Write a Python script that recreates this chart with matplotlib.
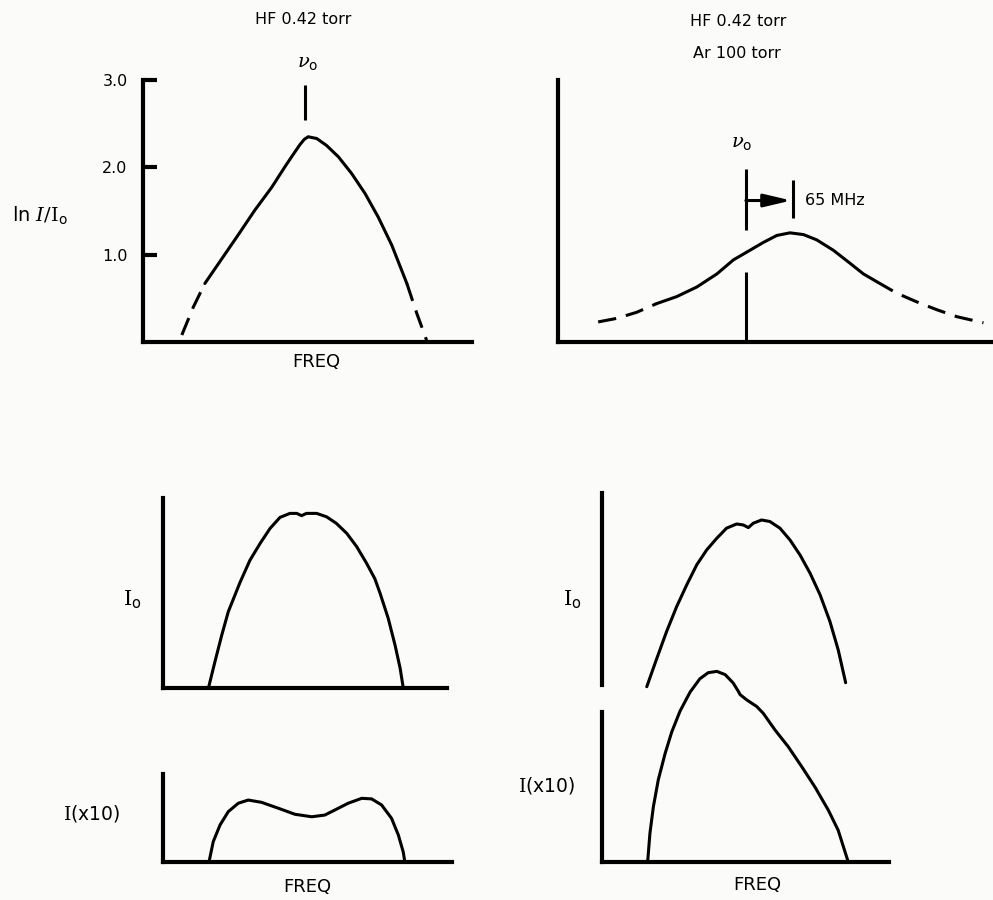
import matplotlib.pyplot as plt
import numpy as np

plt.rcParams["font.family"] = ["DejaVu Sans"]
plt.rcParams["mathtext.fontset"] = "dejavuserif"

# frequency is in arbitrary units (no scale on the original), intensities too

# top left: HF 0.42 torr, ln I/Io
freq_a = [11.8, 15.3, 18.8, 23.9, 29.0, 34.0, 39.1, 43.2, 45.7, 47.7, 49.0,
          50.2, 52.8, 55.8, 59.4, 63.4, 67.5, 71.5, 75.6, 80.2, 83.2, 86.2]
ln_a = [0.08, 0.40, 0.67, 0.95, 1.23, 1.51, 1.77, 2.01, 2.15, 2.26, 2.32,
        2.35, 2.33, 2.25, 2.12, 1.93, 1.70, 1.43, 1.11, 0.67, 0.33, 0.02]
solid_a = (18.8, 80.2)
nu0_a = 49.2
yticks_a = [1.0, 2.0, 3.0]
ytick_labels_a = ["1.0", "2.0", "3.0"]

# top right: HF 0.42 torr + Ar 100 torr
freq_b = [12.2, 17.8, 23.9, 30.0, 36.1, 42.2, 48.3, 53.3, 57.4, 62.4, 66.5,
          70.5, 74.6, 78.6, 83.7, 88.8, 92.8, 96.9, 102.9, 109.0, 115.1,
          121.2, 129.3]
ln_b = [0.23, 0.27, 0.34, 0.44, 0.52, 0.63, 0.78, 0.94, 1.03, 1.14, 1.22,
        1.25, 1.23, 1.17, 1.05, 0.90, 0.78, 0.69, 0.56, 0.46, 0.37, 0.29, 0.22]
solid_b = (30.0, 96.9)
nu0_b = 57.1
shift_b = 14.4  # 65 MHz

# bottom left: Io and I(x10), pure HF
freq_c = [16.0, 18.3, 20.7, 23.0, 27.1, 30.6, 34.2, 37.7, 41.2, 44.7, 47.1,
          48.8, 50.5, 54.1, 57.6, 61.0, 64.7, 68.2, 71.7, 74.6, 76.4, 79.3,
          81.7, 83.5, 84.6]
io_c = [0.0, 1.39, 2.79, 4.02, 5.55, 6.72, 7.61, 8.40, 8.98, 9.19, 9.19,
        9.07, 9.19, 9.19, 9.01, 8.67, 8.14, 7.44, 6.56, 5.75, 5.00, 3.67,
        2.26, 1.04, 0.0]
freq_d = [16.2, 17.7, 20.1, 23.0, 26.5, 30.0, 34.7, 40.6, 46.5, 52.4, 57.0,
          60.6, 65.2, 70.0, 73.5, 77.0, 80.5, 82.9, 84.6, 85.2]
i10_d = [0.0, 1.07, 1.95, 2.65, 3.09, 3.26, 3.14, 2.83, 2.51, 2.38, 2.47,
         2.74, 3.09, 3.35, 3.32, 3.00, 2.30, 1.42, 0.54, 0.0]

# bottom right: Io and I(x10), HF + Ar
freq_e = [15.6, 19.1, 22.5, 26.0, 29.5, 33.0, 36.5, 40.0, 43.4, 46.9, 49.2,
          51.0, 52.7, 55.6, 58.5, 62.0, 65.5, 69.0, 72.5, 76.0, 79.4, 82.3,
          84.9]
io_e = [-0.09, 1.40, 2.81, 4.12, 5.26, 6.32, 7.11, 7.72, 8.25, 8.47, 8.42,
        8.28, 8.51, 8.68, 8.60, 8.25, 7.63, 6.84, 5.88, 4.74, 3.35, 1.85, 0.12]
freq_f = [15.9, 16.7, 17.9, 19.6, 22.0, 24.3, 27.2, 30.7, 34.1, 37.0, 40.0,
          42.9, 45.7, 47.5, 48.1, 50.4, 53.9, 56.2, 60.3, 64.9, 69.6, 74.2,
          78.9, 82.3, 85.8]
i10_f = [0.0, 1.51, 2.91, 4.32, 5.72, 6.85, 7.95, 8.95, 9.65, 9.97, 10.04,
         9.87, 9.43, 8.99, 8.82, 8.54, 8.19, 7.83, 6.95, 6.07, 5.02, 3.95,
         2.72, 1.67, 0.0]

W, H = 993, 900
LW_AXIS = 3.0
LW_CURVE = 2.2
DASH = (0, (6, 3.3))


def px(x, y):
    return x / W, 1 - y / H


def frame(fig, left, top, right, bottom, xlim, ylim, show_bottom=True):
    ax = fig.add_axes([left / W, 1 - bottom / H, (right - left) / W, (bottom - top) / H])
    ax.set_facecolor("none")
    ax.spines["top"].set_visible(False)
    ax.spines["right"].set_visible(False)
    ax.spines["bottom"].set_visible(show_bottom)
    for side in ["left", "bottom"]:
        ax.spines[side].set_linewidth(LW_AXIS)
        ax.spines[side].set_capstyle("projecting")
    ax.set_xlim(*xlim)
    ax.set_ylim(*ylim)
    ax.set_xticks([])
    ax.set_yticks([])
    return ax


def split_plot(ax, x, y, solid):
    x = np.array(x)
    y = np.array(y)
    inner = (x >= solid[0]) & (x <= solid[1])
    left = x <= solid[0]
    right = x >= solid[1]
    ax.plot(x[inner], y[inner], color="k", lw=LW_CURVE, solid_capstyle="round",
            solid_joinstyle="round", clip_on=False)
    ax.plot(x[left], y[left], color="k", lw=LW_CURVE, linestyle=DASH, clip_on=False)
    ax.plot(x[right], y[right], color="k", lw=LW_CURVE, linestyle=DASH, clip_on=False)


def curve(ax, x, y):
    ax.plot(x, y, color="k", lw=LW_CURVE, solid_capstyle="round",
            solid_joinstyle="round", clip_on=False)


fig = plt.figure(figsize=(W / 100, H / 100), dpi=100)
fig.patch.set_facecolor("#fbfbf9")

# ---- top left
ax_a = frame(fig, 143, 80, 472, 342, (0, 100), (0, 3.0))
ax_a.set_yticks(yticks_a, labels=ytick_labels_a)
ax_a.tick_params(axis="y", direction="in", length=10, width=LW_AXIS, pad=11,
                 labelsize=11.5)
split_plot(ax_a, freq_a, ln_a, solid_a)
ax_a.vlines(nu0_a, 2.54, 2.94, color="k", lw=LW_CURVE, clip_on=False)
fig.text(*px(308, 63), r"$\nu_\mathsf{o}$", fontsize=14, ha="center", va="center")
fig.text(*px(303, 20), "HF 0.42 torr", fontsize=11.5, ha="center", va="center")
fig.text(*px(12, 215), r"ln $I/\mathrm{I}_\mathsf{o}$", fontsize=14, ha="left", va="center")
fig.text(*px(316, 362), "FREQ", fontsize=13, ha="center", va="center")

# ---- top right
ax_b = frame(fig, 558, 80, 993, 342, (0, 132.2), (0, 3.0))
split_plot(ax_b, freq_b, ln_b, solid_b)
ax_b.vlines(nu0_b, 1.28, 1.98, color="k", lw=LW_CURVE)
ax_b.vlines(nu0_b, 0, 0.80, color="k", lw=LW_CURVE)
ax_b.vlines(nu0_b + shift_b, 1.42, 1.85, color="k", lw=LW_CURVE)
ax_b.annotate("", xy=(nu0_b + shift_b - 0.6, 1.62), xytext=(nu0_b, 1.62),
              arrowprops=dict(arrowstyle="-|>,head_length=1.1,head_width=0.26",
                              mutation_scale=15, color="k", lw=LW_CURVE,
                              shrinkA=0, shrinkB=0))
ax_b.text(nu0_b + shift_b + 3.5, 1.62, "65 MHz", fontsize=11.5, ha="left", va="center")
fig.text(*px(742, 143), r"$\nu_\mathsf{o}$", fontsize=14, ha="center", va="center")
fig.text(*px(738, 22), "HF 0.42 torr", fontsize=11.5, ha="center", va="center")
fig.text(*px(737, 53), "Ar 100 torr", fontsize=11.5, ha="center", va="center")

# ---- bottom left
ax_c = frame(fig, 163, 498, 447, 688, (0, 100), (0, 10))
curve(ax_c, freq_c, io_c)
fig.text(*px(132, 600), r"$\mathrm{I}_\mathsf{o}$", fontsize=15, ha="center", va="center")

ax_d = frame(fig, 163, 774, 452, 862, (0, 101.8), (0, 4.63))
curve(ax_d, freq_d, i10_d)
fig.text(*px(63, 813), r"$\mathrm{I}$(x10)", fontsize=13.5, ha="left", va="center")
fig.text(*px(307, 887), "FREQ", fontsize=13, ha="center", va="center")

# ---- bottom right
ax_e = frame(fig, 602, 493, 889, 685, (0, 100), (0, 10.1), show_bottom=False)
curve(ax_e, freq_e, io_e)
fig.text(*px(572, 600), r"$\mathrm{I}_\mathsf{o}$", fontsize=15, ha="center", va="center")

ax_f = frame(fig, 602, 712, 889, 862, (0, 100), (0, 7.9))
curve(ax_f, freq_f, i10_f)
fig.text(*px(518, 785), r"$\mathrm{I}$(x10)", fontsize=13.5, ha="left", va="center")
fig.text(*px(757, 885), "FREQ", fontsize=13, ha="center", va="center")

fig.savefig("out.png", dpi=100, facecolor=fig.get_facecolor())
